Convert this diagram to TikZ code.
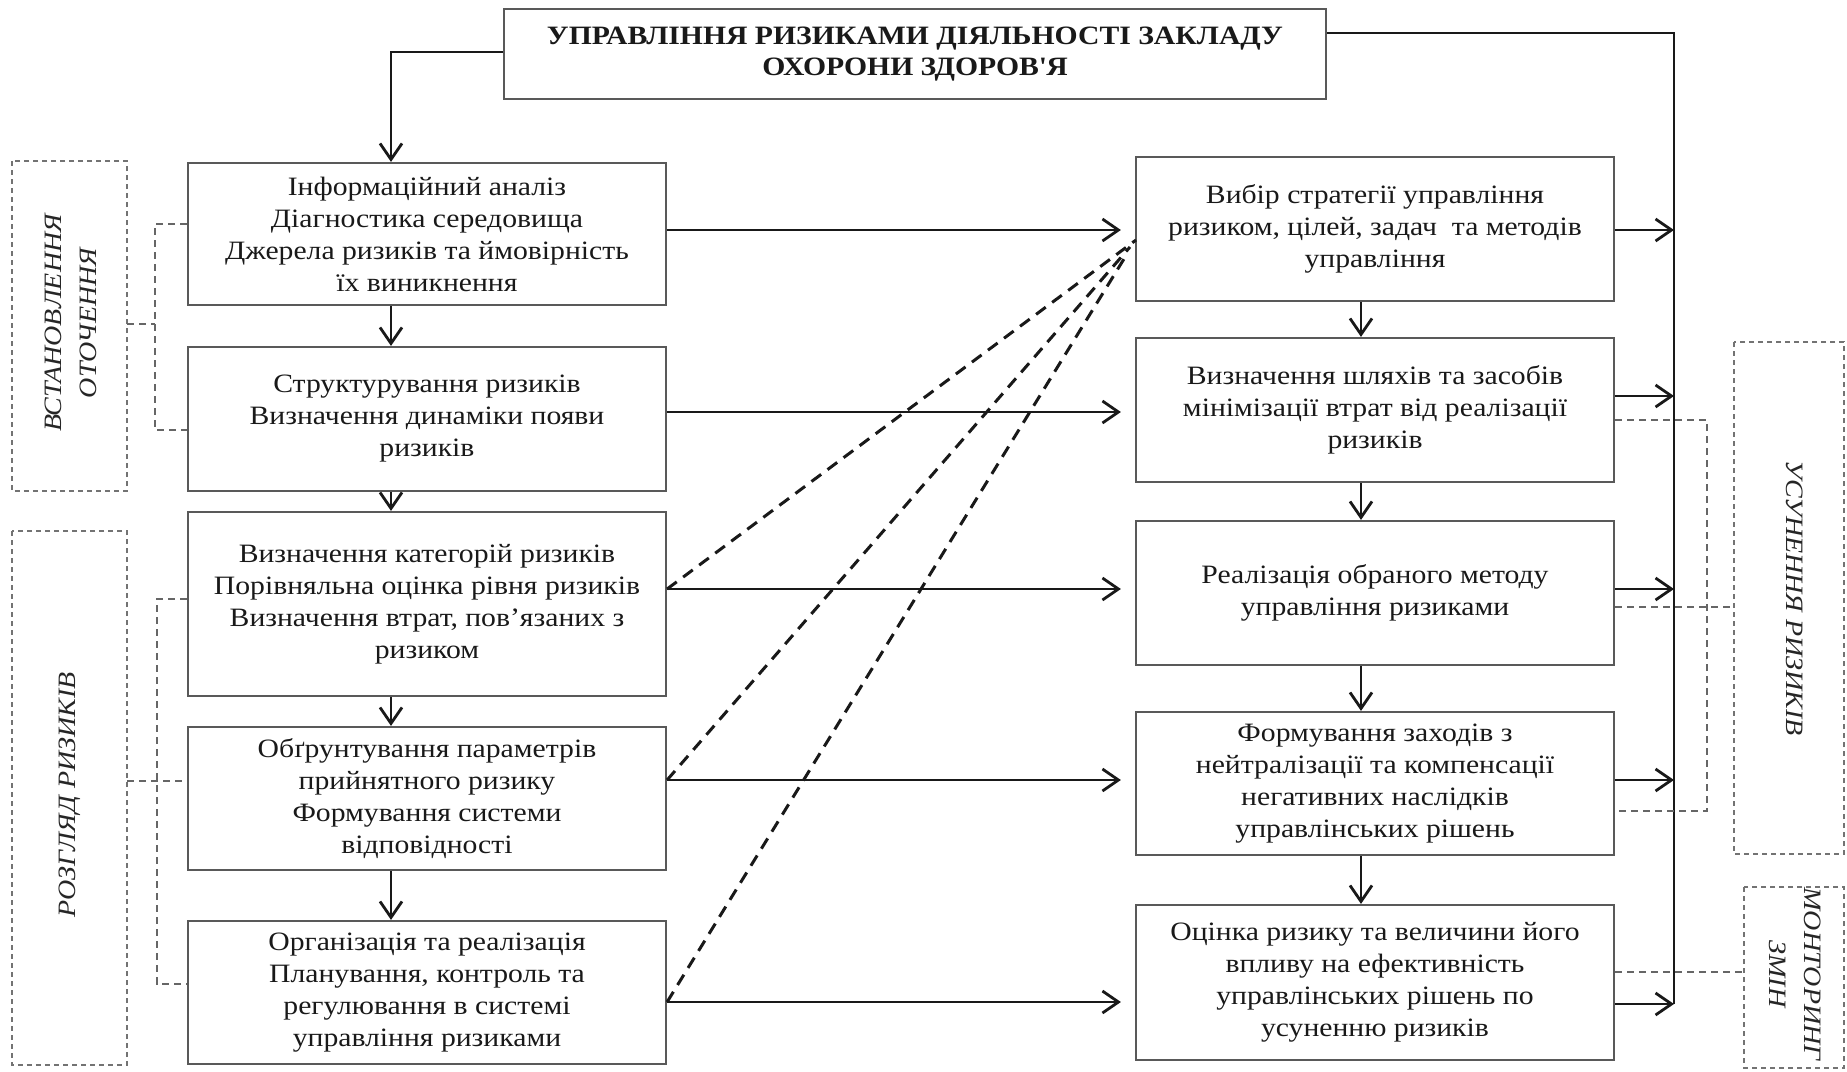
\documentclass[tikz,border=0pt]{standalone}
\usepackage{fontspec}
\setmainfont[FakeStretch=1.12]{Liberation Serif}
\usetikzlibrary{arrows.meta,calc}
\begin{document}
\begin{tikzpicture}[x=1pt,y=-1pt,
  box/.style={draw=black!65, line width=2.2pt, rectangle, align=center, inner sep=0pt,
    text=black!90, font=\fontsize{26.5}{32}\selectfont},
  lbox/.style={box, minimum width=478pt},
  ttl/.style={box, font=\fontsize{26.5}{30.5}\selectfont\bfseries},
  conn/.style={draw=black!90, line width=2.8pt},
  arr/.style={conn, -{Straight Barb[length=16pt,width=22pt]}},
  diag/.style={draw=black!90, line width=3pt, dash pattern=on 12pt off 8pt},
  thin/.style={draw=black!60, line width=1.6pt, dash pattern=on 7pt off 5pt},
  dbox/.style={draw=black!55, line width=2pt, dash pattern=on 5pt off 4pt},
  side/.style={font=\fontsize{25}{35}\selectfont\itshape, text=black!85, align=center, inner sep=0pt}
]
\useasboundingbox (0,0) rectangle (1847,1071);
\fill[white] (0,0) rectangle (1847,1071);

% dashed side boxes
\draw[dbox] (12,161) rectangle (127,491);
\draw[dbox] (12,531) rectangle (127,1065);
\draw[dbox] (1734,342) rectangle (1844,854);
\draw[dbox] (1744,887) rectangle (1844,1068);
\coordinate (d1e) at (127,324);
\coordinate (d2e) at (127,781);
\coordinate (d3w) at (1734,607);
\coordinate (d4w) at (1744,972);

\node[side, rotate=90] (s1) at (70.5,323) {ВСТАНОВЛЕННЯ\\ОТОЧЕННЯ};
\node[side, rotate=90] (s2) at (70,795) {РОЗГЛЯД РИЗИКІВ};
\node[side, rotate=-90] (s3) at (1795,598) {УСУНЕННЯ РИЗИКІВ};
\node[side, rotate=-90] (s4) at (1795,974) {МОНТОРИНГ\\ЗМІН};

% title
\node[ttl, minimum width=822pt, minimum height=90pt] (top) at (915,54)
  {УПРАВЛІННЯ РИЗИКАМИ ДІЯЛЬНОСТІ ЗАКЛАДУ\\ОХОРОНИ ЗДОРОВ\textquotesingle Я};

% left column
\node[lbox, minimum height=142pt] (l1) at (427,234)
  {Інформаційний аналіз\\Діагностика середовища\\Джерела ризиків та ймовірність\\їх виникнення};
\node[lbox, minimum height=144pt] (l2) at (427,419)
  {Структурування ризиків\\Визначення динаміки появи\\ризиків};
\node[lbox, minimum height=184pt] (l3) at (427,604)
  {Визначення категорій ризиків\\Порівняльна оцінка рівня ризиків\\Визначення втрат, пов’язаних з\\ризиком};
\node[lbox, minimum height=143pt] (l4) at (427,798.5)
  {Обґрунтування параметрів\\прийнятного ризику\\Формування системи\\відповідності};
\node[lbox, minimum height=143pt] (l5) at (427,992.5)
  {Організація та реалізація\\Планування, контроль та\\регулювання в системі\\управління ризиками};

% right column
\node[lbox, minimum height=144pt] (r1) at (1375,229)
  {Вибір стратегії управління\\ризиком, цілей, задач\ \ та методів\\управління};
\node[lbox, minimum height=144pt] (r2) at (1375,410)
  {Визначення шляхів та засобів\\мінімізації втрат від реалізації\\ризиків};
\node[lbox, minimum height=144pt] (r3) at (1375,593)
  {Реалізація обраного методу\\управління ризиками};
\node[lbox, minimum height=143pt] (r4) at (1375,783.5)
  {Формування заходів з\\нейтралізації та компенсації\\негативних наслідків\\управлінських рішень};
\node[lbox, minimum height=155pt] (r5) at (1375,982.5)
  {Оцінка ризику та величини його\\впливу на ефективність\\управлінських рішень по\\усуненню ризиків};

% helper coordinates
\coordinate (lx) at (391,0);
\coordinate (rx) at (1361,0);
\coordinate (bt) at (1674,33);
\coordinate (bb) at (1674,1004);
\coordinate (tl) at (391,52);
\coordinate (c3) at (1136,240);
\coordinate (c4) at (1130,247);
\coordinate (c5) at (1127,254);

% title connectors
\draw[arr] (top.west |- tl) -- (tl) -- (l1.north -| lx);
\draw[conn] (top.east |- bt) -- (bt) -- (bb);

% vertical arrows
\draw[arr] (l1.south -| lx) -- (l2.north -| lx);
\draw[arr] (l2.south -| lx) -- (l3.north -| lx);
\draw[arr] (l3.south -| lx) -- (l4.north -| lx);
\draw[arr] (l4.south -| lx) -- (l5.north -| lx);
\draw[arr] (r1.south -| rx) -- (r2.north -| rx);
\draw[arr] (r2.south -| rx) -- (r3.north -| rx);
\draw[arr] (r3.south -| rx) -- (r4.north -| rx);
\draw[arr] (r4.south -| rx) -- (r5.north -| rx);

% horizontal arrows left -> right
\foreach \a/\b/\y in {l1/r1/230, l2/r2/412, l3/r3/589, l4/r4/780, l5/r5/1002}{
  \draw[arr, shorten >=14pt] (\a.east |- 0,\y) -- (\b.west |- 0,\y);
}
% right -> bus
\foreach \b/\y in {r1/230, r2/396, r3/589, r4/780, r5/1004}{
  \draw[arr] (\b.east |- 0,\y) -- (bt |- 0,\y);
}

% dashed diagonals
\draw[diag] (l3.east |- 0,589) -- (c3);
\draw[diag] (l4.east |- 0,780) -- (c4);
\draw[diag] (l5.east |- 0,1002) -- (c5);

% thin dashed brackets
\draw[thin] (l1.west |- 0,224) -- (155,224) -- (155,430) -- (l2.west |- 0,430);
\draw[thin] (d1e) -- (155,324);
\draw[thin] (l3.west |- 0,599) -- (157,599) -- (157,984) -- (l5.west |- 0,984);
\draw[thin] (d2e) -- (l4.west |- d2e);
\draw[thin] (r2.east |- 0,420) -- (1707,420) -- (1707,811) -- (r4.east |- 0,811);
\draw[thin] (r3.east |- d3w) -- (d3w);
\draw[thin] (r5.east |- d4w) -- (d4w);
\end{tikzpicture}
\end{document}
